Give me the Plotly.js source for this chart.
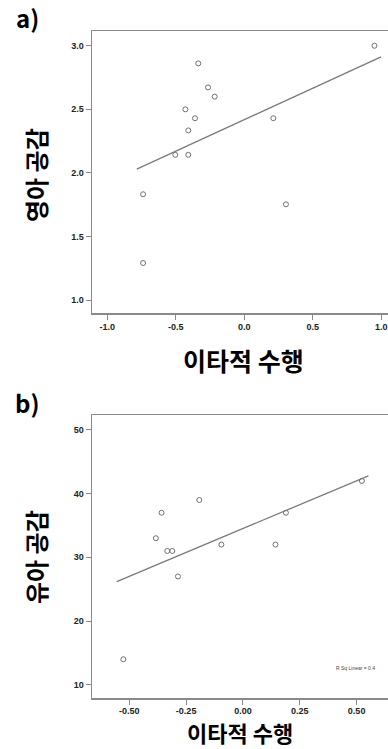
<!DOCTYPE html>
<html>
<head>
<meta charset="utf-8">
<script src="https://cdn.plot.ly/plotly-3.0.1.min.js"></script>
<style>html,body{margin:0;padding:0;background:#fff;}#chart{width:388px;height:749px;}</style>
</head>
<body>
<div id="chart"></div>
<script>
// Panel a data
var aX = [0.95, -0.336, -0.265, -0.216, -0.43, -0.36, 0.212, -0.409, -0.504, -0.409, -0.739, 0.304, -0.739];
var aY = [3.0, 2.861, 2.672, 2.60, 2.50, 2.43, 2.43, 2.334, 2.142, 2.142, 1.832, 1.753, 1.291];
var aFitX = [-0.785, 0.998];
var aFitY = [2.03, 2.913];
var aXTicks = [-1.0, -0.5, 0.0, 0.5, 1.0];
var aXTickText = ["-1.0", "-0.5", "0.0", "0.5", "1.0"];
var aYTicks = [1.0, 1.5, 2.0, 2.5, 3.0];
var aYTickText = ["1.0", "1.5", "2.0", "2.5", "3.0"];

// Panel b data
var bX = [0.523, -0.192, -0.358, 0.189, -0.383, -0.333, -0.311, -0.095, 0.143, -0.286, -0.526];
var bY = [42, 39, 37, 37, 33, 31, 31, 32, 32, 27, 14];
var bFitX = [-0.555, 0.552];
var bFitY = [26.2, 42.8];
var bXTicks = [-0.50, -0.25, 0.00, 0.25, 0.50];
var bXTickText = ["-0.50", "-0.25", "0.00", "0.25", "0.50"];
var bYTicks = [10, 20, 30, 40, 50];
var bYTickText = ["10", "20", "30", "40", "50"];

var labels = {
  a: "a)", b: "b)",
  aYTitle: "영아 공감", bYTitle: "유아 공감",
  xTitle: "이타적 수행",
  rsq: "R Sq Linear = 0.4"
};

var gray = "#8a8a8a";
var markerStyle = {symbol: "circle-open", size: 5, color: "#707070", line: {width: 1, color: "#707070"}};
var lineStyle = {color: "#7a7a7a", width: 1.3};

var traces = [
  {x: aX, y: aY, xaxis: "x", yaxis: "y", mode: "markers", type: "scatter", marker: markerStyle, hoverinfo: "none"},
  {x: aFitX, y: aFitY, xaxis: "x", yaxis: "y", mode: "lines", type: "scatter", line: lineStyle, hoverinfo: "none"},
  {x: bX, y: bY, xaxis: "x2", yaxis: "y2", mode: "markers", type: "scatter", marker: markerStyle, hoverinfo: "none"},
  {x: bFitX, y: bFitY, xaxis: "x2", yaxis: "y2", mode: "lines", type: "scatter", line: lineStyle, hoverinfo: "none"}
];

var tickFont = {family: "Liberation Sans, Arial, sans-serif", size: 9, color: "#222", weight: "bold"};
function axisCommon() {
  return {
    showgrid: false, zeroline: false, showline: true, linecolor: gray, linewidth: 1.5,
    ticks: "outside", ticklen: 5, tickcolor: gray, tickwidth: 1, tickfont: tickFont,
    tickmode: "array", fixedrange: true
  };
}

var ax = Object.assign(axisCommon(), {domain: [92/388, 1], anchor: "y", range: [-1.112, 1.049], tickvals: aXTicks, ticktext: aXTickText, mirror: true});
var ay = Object.assign(axisCommon(), {domain: [1 - 313/749, 1 - 31/749], anchor: "x", range: [0.898, 3.116], tickvals: aYTicks, ticktext: aYTickText, ticklabelstandoff: 0});
var bx = Object.assign(axisCommon(), {domain: [92/388, 1], anchor: "y2", range: [-0.664, 0.638], tickvals: bXTicks, ticktext: bXTickText, mirror: true, ticklabelstandoff: -1});
var by = Object.assign(axisCommon(), {domain: [1 - 698/749, 1 - 415/749], anchor: "x2", range: [7.91, 52.35], tickvals: bYTicks, ticktext: bYTickText, ticklabelstandoff: 0});

var kFont = "Noto Sans CJK KR, sans-serif";
function ann(text, x, y, size, angle, extra) {
  return Object.assign({text: "<b>" + text + "</b>", x: x / 388, y: 1 - y / 749, xref: "paper", yref: "paper",
    xanchor: "center", yanchor: "middle", showarrow: false, textangle: angle || 0,
    font: {family: kFont, size: size, color: "#000"}}, extra || {});
}

var annotations = [
  ann(labels.a, 28, 18, 24),
  ann(labels.b, 28, 402, 24),
  ann(labels.aYTitle, 35, 175, 24, -90),
  ann(labels.bYTitle, 35, 557, 24, -90),
  ann(labels.xTitle, 243, 360, 25),
  ann(labels.xTitle, 240, 749, 22, 0, {yanchor: "bottom", borderpad: 0}),
  {text: labels.rsq, x: 355/388, y: 1 - 668/749, xref: "paper", yref: "paper", xanchor: "center", yanchor: "middle",
   showarrow: false, font: {family: "Liberation Sans Narrow, Liberation Sans, sans-serif", size: 5, color: "#444"}}
];

var layout = {
  width: 388, height: 749, margin: {l: 0, r: 0, t: 0, b: 0},
  paper_bgcolor: "#fff", plot_bgcolor: "#fff", showlegend: false,
  xaxis: ax, yaxis: ay, xaxis2: bx, yaxis2: by,
  annotations: annotations
};

Plotly.newPlot("chart", traces, layout, {displayModeBar: false, staticPlot: true});
</script>
</body>
</html>
